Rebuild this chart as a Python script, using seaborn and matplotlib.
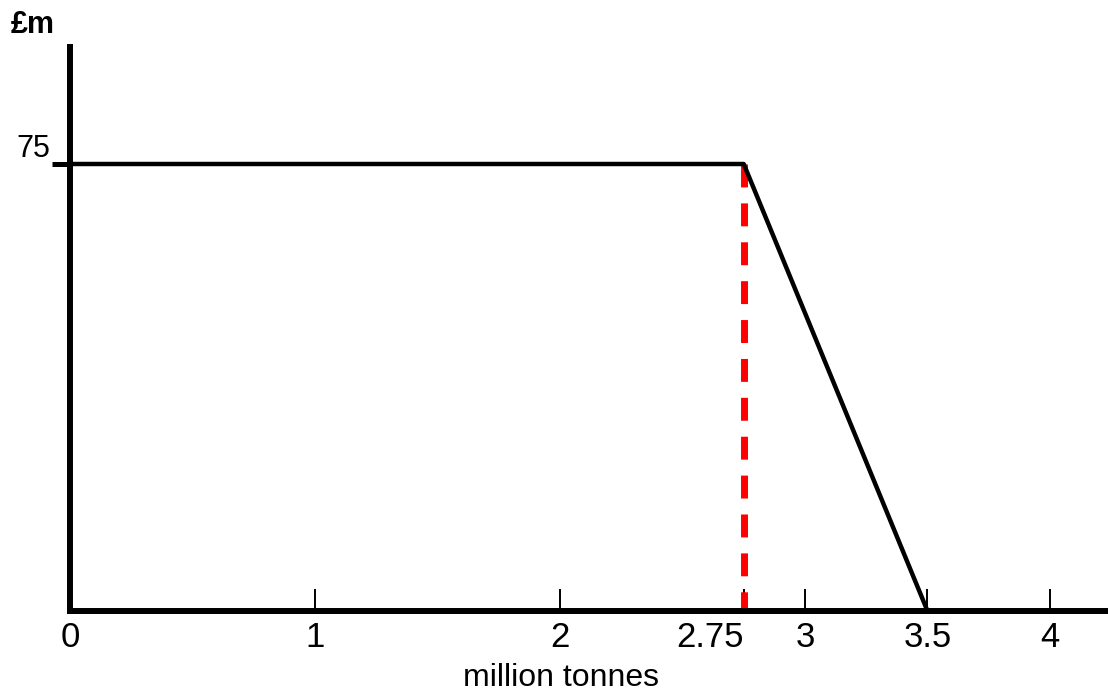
import numpy as np
import pandas as pd
import matplotlib
matplotlib.use("Agg")
import matplotlib.pyplot as plt
import seaborn as sns

# data
quantity = [0, 2.75, 3.5]          # million tonnes
value = [75, 75, 0]                # £m
cap_q = [2.75, 2.75]               # red dashed cap
cap_v = [75, 0]
x_ticks = [0, 1, 2, 2.75, 3, 3.5, 4]
x_tick_labels = ["0", "1", "2", "2.75", "3", "3.5", "4"]
y_ticks = [75]
y_tick_labels = ["75"]

sns.set_style("white")
plt.rcParams["font.family"] = ["Liberation Sans", "DejaVu Sans"]
plt.rcParams["text.color"] = "black"
plt.rcParams["xtick.labelcolor"] = "black"
plt.rcParams["ytick.labelcolor"] = "black"
plt.rcParams["axes.labelcolor"] = "black"

fig = plt.figure(figsize=(11.08, 6.91), dpi=100)
ax = fig.add_axes([70 / 1108, 80 / 691, 1038 / 1108, 564 / 691])

curve = pd.DataFrame({"q": quantity, "v": value})
cap = pd.DataFrame({"q": cap_q, "v": cap_v})

sns.lineplot(data=curve, x="q", y="v", sort=False, estimator=None,
             color="black", linewidth=3.2, ax=ax, clip_on=False)
sns.lineplot(data=cap, x="q", y="v", sort=False, estimator=None,
             color="#ff0000", linewidth=5, linestyle=(0, (3.3, 2.3)),
             ax=ax, clip_on=False, zorder=1)

ax.set_xlim(0, 1038 / 245)
ax.set_ylim(0, 75 * 564 / 447)

for side in ["top", "right"]:
    ax.spines[side].set_visible(False)
for side in ["left", "bottom"]:
    ax.spines[side].set_linewidth(4.3)
    ax.spines[side].set_color("black")

ax.set_xticks(x_ticks, labels=x_tick_labels)
ax.set_yticks(y_ticks, labels=y_tick_labels)
ax.tick_params(axis="x", direction="in", length=16, width=1.4, color="black",
               labelsize=25, pad=7, bottom=True, labelcolor="black")
ax.tick_params(axis="y", direction="out", length=13, width=3.6, color="black",
               labelsize=22, pad=1, left=True, labelcolor="black")
for lab in ax.get_yticklabels():
    lab.set_verticalalignment("bottom")
# the 2.75 label sits just left of its tick in the original
for lab in ax.get_xticklabels():
    if lab.get_text() == "2.75":
        lab.set_horizontalalignment("right")

ax.set_xlabel("million tonnes", fontsize=23, color="black")
ax.xaxis.set_label_coords((561 - 70) / 1038, -0.092)
ax.set_ylabel("")

fig.text(11 / 1108, 1 - 10 / 691, "£m", fontsize=22, fontweight="bold",
         color="black", ha="left", va="top")

fig.savefig("out.png", dpi=100)
